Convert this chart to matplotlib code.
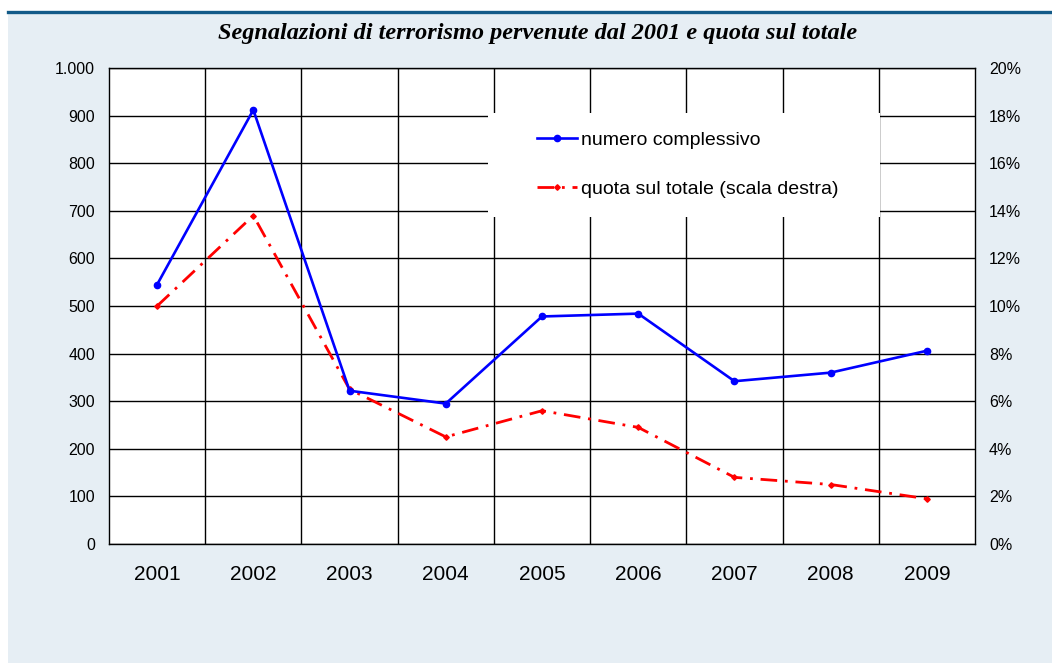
import numpy as np
import matplotlib
matplotlib.use('Agg')
import matplotlib.pyplot as plt
from matplotlib.patches import Rectangle
from matplotlib.lines import Line2D

years = ['2001', '2002', '2003', '2004', '2005', '2006', '2007', '2008', '2009']
numero = [545, 912, 322, 295, 478, 484, 342, 360, 406]
quota = [10.0, 13.8, 6.5, 4.5, 5.6, 4.9, 2.8, 2.5, 1.9]

left_ticks = [0, 100, 200, 300, 400, 500, 600, 700, 800, 900, 1000]
left_labels = ['0', '100', '200', '300', '400', '500', '600', '700', '800', '900', '1.000']
right_ticks = [0, 2, 4, 6, 8, 10, 12, 14, 16, 18, 20]
right_labels = ['%d%%' % t for t in right_ticks]

title = 'Segnalazioni di terrorismo pervenute dal 2001 e quota sul totale'
lab_num = 'numero complessivo'
lab_quota = 'quota sul totale (scala destra)'

sans = 'Liberation Sans'
W, H = 1052, 663

fig = plt.figure(figsize=(W / 100, H / 100), dpi=100)
fig.patch.set_facecolor('white')

# background panel and the dark rule on top
fig.patches.append(Rectangle((8 / W, 0), 1 - 8 / W, 1 - 14 / H, transform=fig.transFigure,
                             facecolor='#e6eef4', edgecolor='none', zorder=-5))
fig.lines.append(Line2D([8 / W, 1], [1 - 12 / H, 1 - 12 / H], transform=fig.transFigure,
                        color='#125a88', lw=2.4, zorder=-4))

fig.text(538 / W, 1 - 33 / H, title, ha='center', va='center', fontsize=17.5,
         family='Liberation Serif', style='italic', weight='bold')

ax = fig.add_axes([109 / W, 1 - 544 / H, 866 / W, 476 / H])
ax.set_facecolor('white')
x = np.arange(len(years))

ax.set_xlim(-0.5, len(years) - 0.5)
ax.set_ylim(0, 1000)
ax.set_yticks(left_ticks)
ax.set_yticklabels(left_labels, fontsize=11.5, family=sans)
ax.set_xticks(x)
ax.set_xticklabels(years, fontsize=15, family=sans)
ax.set_xticks(x[:-1] + 0.5, minor=True)
ax.tick_params(axis='both', which='both', length=0)
ax.tick_params(axis='x', pad=15)
ax.tick_params(axis='y', pad=10)
ax.grid(True, axis='y', which='major', color='black', lw=1, zorder=1)
ax.grid(True, axis='x', which='minor', color='black', lw=1, zorder=1)
for s in ax.spines.values():
    s.set_color('black')
    s.set_linewidth(1)
    s.set_zorder(5)

ax2 = ax.twinx()
ax2.set_ylim(0, 20)
ax2.set_yticks(right_ticks)
ax2.set_yticklabels(right_labels, fontsize=11.5, family=sans)
ax2.tick_params(axis='y', length=0, pad=10)
for s in ax2.spines.values():
    s.set_visible(False)

# white box behind the legend
ax2.add_patch(Rectangle((0.4376, 0.687), 0.4527, 0.2185, transform=ax.transAxes,
                        facecolor='white', edgecolor='none', zorder=2))

l1, = ax2.plot(x, np.array(numero) / 50.0, color='#0000ff', lw=1.9, marker='o',
               markersize=4.5, zorder=4, label=lab_num)
l2, = ax2.plot(x, quota, color='#ff0000', lw=2.0, marker='D', markersize=2.8,
               linestyle=(0, (6, 2.8, 1, 2.8)), zorder=3, label=lab_quota)

ax2.legend(handles=[l1, l2], loc='upper left', bbox_to_anchor=(0.4942, 0.867),
           frameon=False, prop={'family': sans, 'size': 14},
           handlelength=2.05, handletextpad=0.2, labelspacing=1.6,
           borderpad=0, borderaxespad=0, numpoints=1)

fig.savefig('out.png', dpi=100, facecolor=fig.get_facecolor())
